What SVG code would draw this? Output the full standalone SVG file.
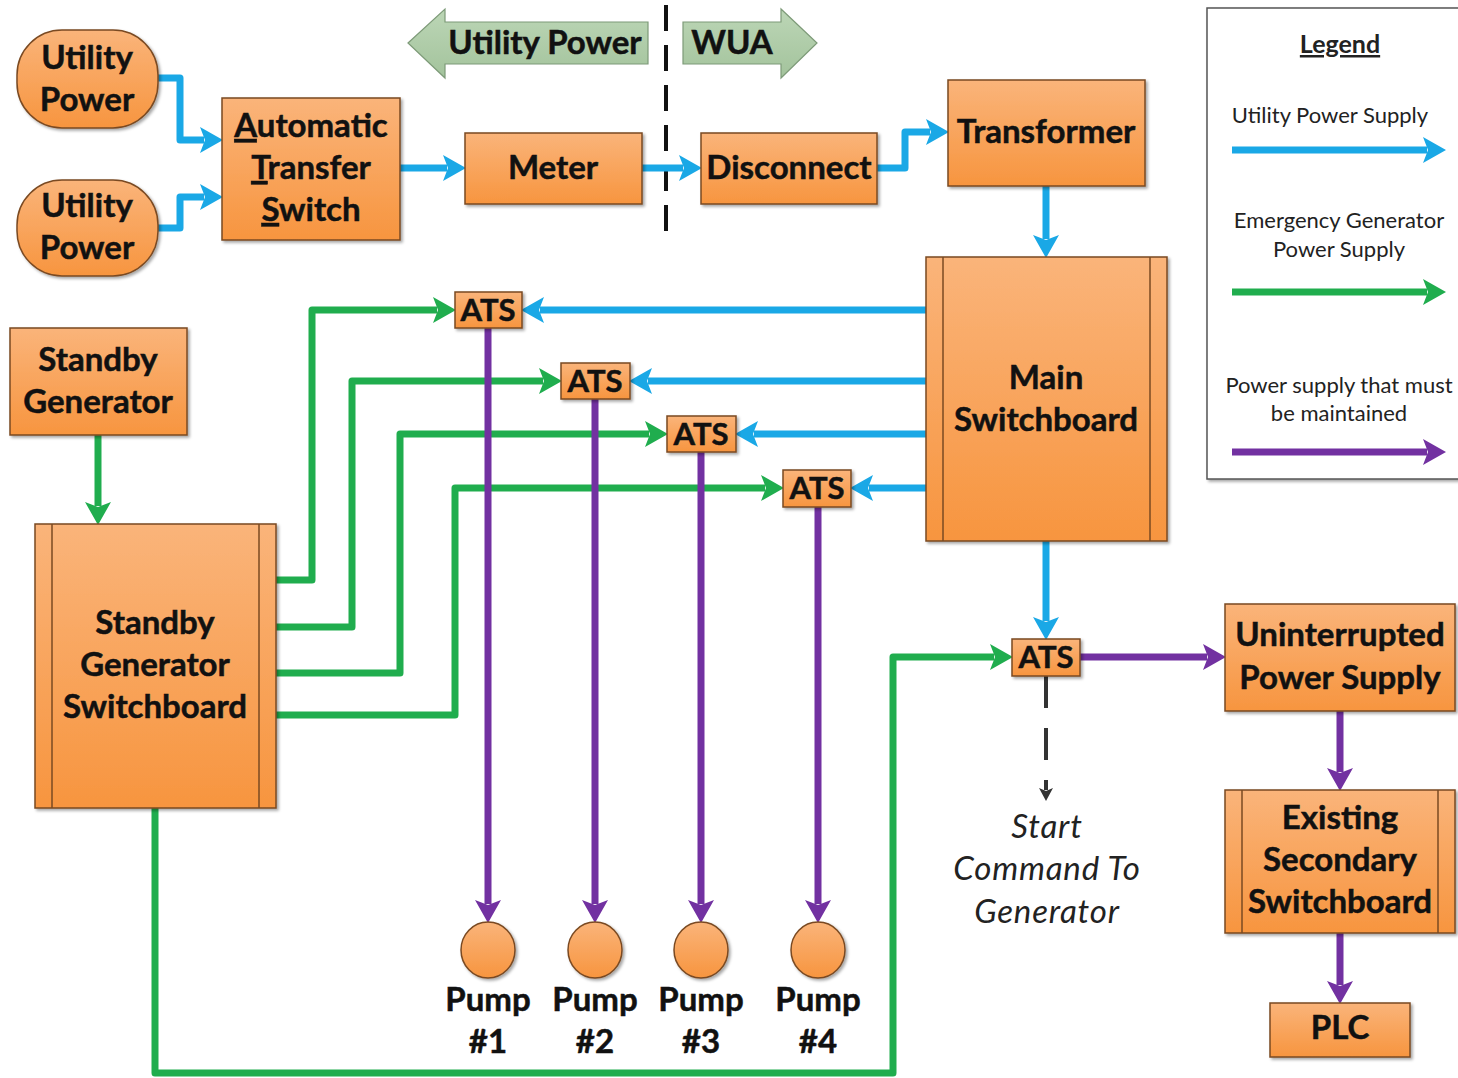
<svg xmlns="http://www.w3.org/2000/svg" width="1458" height="1078" viewBox="0 0 1458 1078">
<defs>
<linearGradient id="og" x1="0" y1="0" x2="0" y2="1">
<stop offset="0" stop-color="#fab47a"/>
<stop offset="1" stop-color="#f7953f"/>
</linearGradient>
<linearGradient id="gg" x1="0" y1="0" x2="0" y2="1">
<stop offset="0" stop-color="#bcd6b6"/>
<stop offset="1" stop-color="#a3c39c"/>
</linearGradient>
<filter id="sh" x="-10%" y="-10%" width="130%" height="130%">
<feDropShadow dx="2" dy="2" stdDeviation="1.5" flood-color="#000" flood-opacity="0.35"/>
</filter>
<marker id="ab" markerUnits="userSpaceOnUse" markerWidth="24" markerHeight="28" refX="4" refY="14" orient="auto" overflow="visible">
<path d="M0,1 L23,14 L0,27 L5,14 Z" fill="#1aa8e6"/>
</marker>
<marker id="ag" markerUnits="userSpaceOnUse" markerWidth="24" markerHeight="28" refX="4" refY="14" orient="auto" overflow="visible">
<path d="M0,1 L23,14 L0,27 L5,14 Z" fill="#20ad4e"/>
</marker>
<marker id="ap" markerUnits="userSpaceOnUse" markerWidth="24" markerHeight="28" refX="4" refY="14" orient="auto" overflow="visible">
<path d="M0,1 L23,14 L0,27 L5,14 Z" fill="#7231a1"/>
</marker>
<marker id="ak" markerUnits="userSpaceOnUse" markerWidth="14" markerHeight="14" refX="2" refY="7" orient="auto" overflow="visible">
<path d="M0,0 L13,7 L0,14 L3,7 Z" fill="#333"/>
</marker>
</defs>
<style>
.box{fill:url(#og);stroke:#7a4a22;stroke-width:1.5;filter:url(#sh)}
.in{stroke:#7a4a22;stroke-width:1.5;fill:none}
.t{font-family:Lato,"Liberation Sans",sans-serif;font-weight:bold;font-size:33px;fill:#111;stroke:#111;stroke-width:0.5;text-anchor:middle}
.ta{font-family:Lato,"Liberation Sans",sans-serif;font-weight:bold;font-size:31px;fill:#111;stroke:#111;stroke-width:0.5;text-anchor:middle}
.ti{font-family:Lato,"Liberation Sans",sans-serif;font-style:italic;font-size:33px;letter-spacing:0.8px;fill:#222;text-anchor:middle}
.tl{font-family:Lato,"Liberation Sans",sans-serif;font-size:22px;fill:#222;text-anchor:middle}
.b{fill:none;stroke:#1aa8e6;stroke-width:7;stroke-linejoin:round;marker-end:url(#ab)}
.g{fill:none;stroke:#20ad4e;stroke-width:7;stroke-linejoin:round;marker-end:url(#ag)}
.p{fill:none;stroke:#7231a1;stroke-width:7;stroke-linejoin:round;marker-end:url(#ap)}
.u{text-decoration:underline}
</style>
<g id="banner">
<polygon points="408,43 445,9 445,22 648,22 648,64 445,64 445,78" fill="url(#gg)" stroke="#7d9a78" stroke-width="1.2"/>
<text class="t" x="545" y="54">Utility Power</text>
<polygon points="683,22 781,22 781,9 817,43 781,78 781,64 683,64" fill="url(#gg)" stroke="#7d9a78" stroke-width="1.2"/>
<text class="t" x="732" y="54">WUA</text>
<line x1="666" y1="5" x2="666" y2="242" stroke="#111" stroke-width="4" stroke-dasharray="26,14"/>
</g>
<g id="connectors">
<path class="b" d="M158,78 H180 V140 H204"/>
<path class="b" d="M158,228 H180 V197 H204"/>
<path class="b" d="M400,168 H447"/>
<path class="b" d="M642,168 H683"/>
<path class="b" d="M877,168 H905 V132 H930"/>
<path class="b" d="M1046,186 V239"/>
<path class="b" d="M930,310 H540"/>
<path class="b" d="M930,381 H648"/>
<path class="b" d="M930,434 H754"/>
<path class="b" d="M930,488 H869"/>
<path class="b" d="M1046,541 V621"/>
<path class="g" d="M98,435 V506"/>
<path class="g" d="M276,580 H312 V310 H437"/>
<path class="g" d="M276,627 H352 V381 H543"/>
<path class="g" d="M276,673 H400 V434 H649"/>
<path class="g" d="M276,715 H455 V488 H765"/>
<path class="g" d="M155,808 V1073 H893 V657 H994"/>
<path class="p" d="M488,328 V904"/>
<path class="p" d="M595,399 V904"/>
<path class="p" d="M701,452 V904"/>
<path class="p" d="M818,507 V904"/>
<path class="p" d="M1080,657 H1207"/>
<path class="p" d="M1340,711 V772"/>
<path class="p" d="M1340,933 V985"/>
<path d="M1046,676 V790" fill="none" stroke="#333" stroke-width="4" stroke-dasharray="32,20" marker-end="url(#ak)"/>
</g>
<g id="utility1"><rect class="box" x="17" y="30" width="141" height="98" rx="45" ry="45"/><text class="t" x="87" y="69">Utility</text><text class="t" x="87" y="111">Power</text></g>
<g id="utility2"><rect class="box" x="17" y="180" width="141" height="96" rx="45" ry="45"/><text class="t" x="87" y="217">Utility</text><text class="t" x="87" y="259">Power</text></g>
<g id="ats-main"><rect class="box" x="222" y="98" width="178" height="142"/>
<text class="t" x="311" y="137"><tspan class="u">A</tspan>utomatic</text>
<text class="t" x="311" y="179"><tspan class="u">T</tspan>ransfer</text>
<text class="t" x="311" y="221"><tspan class="u">S</tspan>witch</text></g>
<g id="meter"><rect class="box" x="465" y="133" width="177" height="71"/><text class="t" x="553" y="179">Meter</text></g>
<g id="disconnect"><rect class="box" x="701" y="133" width="176" height="71"/><text class="t" x="789" y="179">Disconnect</text></g>
<g id="transformer"><rect class="box" x="948" y="80" width="197" height="106"/><text class="t" x="1046" y="143">Transformer</text></g>
<g id="main-switchboard"><rect class="box" x="926" y="257" width="241" height="284"/><line class="in" x1="943" y1="257" x2="943" y2="541"/><line class="in" x1="1150" y1="257" x2="1150" y2="541"/><text class="t" x="1046" y="389">Main</text><text class="t" x="1046" y="431">Switchboard</text></g>
<g id="standby-generator"><rect class="box" x="10" y="328" width="177" height="107"/><text class="t" x="98" y="371">Standby</text><text class="t" x="98" y="413">Generator</text></g>
<g id="sg-switchboard"><rect class="box" x="35" y="524" width="241" height="284"/><line class="in" x1="52" y1="524" x2="52" y2="808"/><line class="in" x1="259" y1="524" x2="259" y2="808"/><text class="t" x="155" y="634">Standby</text><text class="t" x="155" y="676">Generator</text><text class="t" x="155" y="718">Switchboard</text></g>
<g id="ats1"><rect class="box" x="455" y="292" width="67" height="36"/><text class="ta" x="488" y="321">ATS</text></g>
<g id="ats2"><rect class="box" x="561" y="363" width="69" height="36"/><text class="ta" x="595" y="392">ATS</text></g>
<g id="ats3"><rect class="box" x="667" y="416" width="69" height="36"/><text class="ta" x="701" y="445">ATS</text></g>
<g id="ats4"><rect class="box" x="783" y="470" width="68" height="37"/><text class="ta" x="817" y="499">ATS</text></g>
<g id="ats5"><rect class="box" x="1012" y="639" width="68" height="37"/><text class="ta" x="1046" y="668">ATS</text></g>
<g id="ups"><rect class="box" x="1225" y="604" width="230" height="107"/><text class="t" x="1340" y="646">Uninterrupted</text><text class="t" x="1340" y="689">Power Supply</text></g>
<g id="secondary-switchboard"><rect class="box" x="1225" y="790" width="230" height="143"/><line class="in" x1="1242" y1="790" x2="1242" y2="933"/><line class="in" x1="1438" y1="790" x2="1438" y2="933"/><text class="t" x="1340" y="829">Existing</text><text class="t" x="1340" y="871">Secondary</text><text class="t" x="1340" y="913">Switchboard</text></g>
<g id="plc"><rect class="box" x="1270" y="1003" width="140" height="54"/><text class="t" x="1340" y="1039">PLC</text></g>
<g id="pump1"><ellipse class="box" cx="488" cy="950" rx="27" ry="28"/><text class="t" x="488" y="1011">Pump</text><text class="t" x="488" y="1053">#1</text></g>
<g id="pump2"><ellipse class="box" cx="595" cy="950" rx="27" ry="28"/><text class="t" x="595" y="1011">Pump</text><text class="t" x="595" y="1053">#2</text></g>
<g id="pump3"><ellipse class="box" cx="701" cy="950" rx="27" ry="28"/><text class="t" x="701" y="1011">Pump</text><text class="t" x="701" y="1053">#3</text></g>
<g id="pump4"><ellipse class="box" cx="818" cy="950" rx="27" ry="28"/><text class="t" x="818" y="1011">Pump</text><text class="t" x="818" y="1053">#4</text></g>
<g id="start-command"><text class="ti" x="1047" y="838">Start</text><text class="ti" x="1047" y="880">Command To</text><text class="ti" x="1047" y="923">Generator</text></g>
<g id="legend">
<rect x="1207" y="8" width="262" height="471" fill="#fff" stroke="#555" stroke-width="1.5" filter="url(#sh)"/>
<text class="tl u" x="1340" y="53" style="font-weight:bold;font-size:25px">Legend</text>
<text class="tl" x="1330" y="123">Utility Power Supply</text>
<path class="b" d="M1232,150 H1427"/>
<text class="tl" x="1339" y="228">Emergency Generator</text>
<text class="tl" x="1339" y="257">Power Supply</text>
<path class="g" d="M1232,292 H1427"/>
<text class="tl" x="1339" y="393">Power supply that must</text>
<text class="tl" x="1339" y="421">be maintained</text>
<path class="p" d="M1232,452 H1427"/>
</g>
</svg>
